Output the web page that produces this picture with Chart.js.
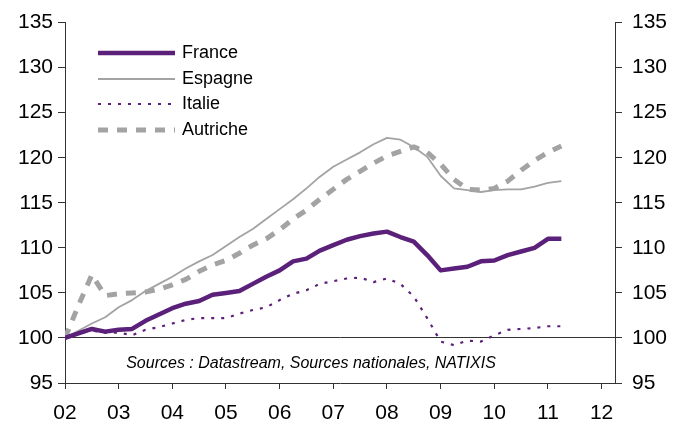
<!DOCTYPE html>
<html>
<head>
<meta charset="utf-8">
<script src="https://cdn.jsdelivr.net/npm/chart.js@4.4.1/dist/chart.umd.min.js"></script>
<style>
  html, body { margin: 0; padding: 0; background: #fff; }
  #wrap { width: 685px; height: 429px; position: relative; }
</style>
</head>
<body>
<div id="wrap"><canvas id="c" width="685" height="429"></canvas></div>
<script>
// Quarterly data, 2002 Q1 .. 2011 Q2 (index = quarter number from 2002 Q1)
const seriesNames = ['France', 'Espagne', 'Italie', 'Autriche'];
const france = [100, 100.5, 101.0, 100.7, 100.9, 101.0, 101.9, 102.6, 103.3, 103.8,
  104.1, 104.8, 105.0, 105.2, 106.0, 106.8, 107.5, 108.5, 108.8, 109.7,
  110.3, 110.9, 111.3, 111.6, 111.8, 111.2, 110.7, 109.2, 107.5, 107.7,
  107.9, 108.5, 108.6, 109.2, 109.6, 110.0, 111.0, 111.0];
const espagne = [100, 100.8, 101.6, 102.3, 103.4, 104.2, 105.2, 106.0, 106.8, 107.7,
  108.5, 109.2, 110.2, 111.2, 112.1, 113.2, 114.3, 115.4, 116.6, 117.9,
  119.0, 119.8, 120.6, 121.5, 122.2, 122.0, 121.2, 120.1, 118.0, 116.6,
  116.4, 116.2, 116.4, 116.5, 116.5, 116.8, 117.2, 117.4];
const italie = [100, 100.5, 100.8, 100.6, 100.6, 100.3, 100.9, 101.2, 101.6, 102.0,
  102.2, 102.2, 102.2, 102.7, 103.1, 103.4, 104.2, 104.9, 105.3, 106.0,
  106.3, 106.6, 106.7, 106.2, 106.6, 106.0, 104.6, 102.2, 99.6, 99.2,
  99.7, 99.6, 100.3, 100.9, 101.0, 101.1, 101.3, 101.3];
const autriche = [100, 103.6, 107.0, 104.7, 104.9, 105.0, 105.1, 105.4, 105.9, 106.5,
  107.4, 108.1, 108.6, 109.4, 110.3, 111.0, 112.0, 113.2, 114.2, 115.4,
  116.5, 117.6, 118.5, 119.4, 120.2, 120.7, 121.2, 120.6, 119.3, 117.6,
  116.5, 116.4, 116.6, 117.4, 118.6, 119.7, 120.6, 121.3];
const yearLabels = ['02', '03', '04', '05', '06', '07', '08', '09', '10', '11', '12'];
const sourceText = 'Sources : Datastream, Sources nationales, NATIXIS';

const PURPLE = '#5B2079';
const GRAY = '#A3A3A3';
const AXIS = '#333333';

const toPts = arr => arr.map((v, i) => ({ x: i, y: v }));

const datasets = [
  { label: seriesNames[0], data: toPts(france), borderColor: PURPLE, borderWidth: 4.5 },
  { label: seriesNames[1], data: toPts(espagne), borderColor: GRAY, borderWidth: 1.8 },
  { label: seriesNames[2], data: toPts(italie), borderColor: PURPLE, borderWidth: 2.2, borderDash: [3, 7] },
  { label: seriesNames[3], data: toPts(autriche), borderColor: GRAY, borderWidth: 5, borderDash: [10, 9] }
].map(d => Object.assign({ pointRadius: 0, tension: 0, fill: false, borderCapStyle: 'butt', borderJoinStyle: 'round' }, d));

const legendPlugin = {
  id: 'innerLegend',
  afterDraw(chart) {
    const ctx = chart.ctx;
    const ys = [53, 79, 104, 130];
    chart.data.datasets.forEach((ds, i) => {
      const y = ys[i];
      ctx.save();
      ctx.strokeStyle = ds.borderColor;
      ctx.lineWidth = ds.borderWidth;
      ctx.setLineDash(ds.borderDash || []);
      ctx.lineCap = 'butt';
      ctx.beginPath();
      ctx.moveTo(98, y);
      ctx.lineTo(175, y);
      ctx.stroke();
      ctx.setLineDash([]);
      ctx.fillStyle = '#000';
      ctx.font = '18px "Liberation Sans", Arial, sans-serif';
      ctx.textBaseline = 'middle';
      ctx.textAlign = 'left';
      ctx.fillText(ds.label, 182, y);
      ctx.restore();
    });
    // source note
    ctx.save();
    ctx.fillStyle = '#000';
    ctx.font = 'italic 16px "Liberation Sans", Arial, sans-serif';
    ctx.textAlign = 'center';
    ctx.textBaseline = 'middle';
    ctx.fillText(sourceText, 311, 364);
    ctx.restore();
  }
};

const tickFont = { family: '"Liberation Sans", Arial, sans-serif', size: 21 };

new Chart(document.getElementById('c'), {
  type: 'line',
  data: { datasets },
  options: {
    responsive: false,
    animation: false,
    events: [],
    layout: { padding: { top: 15, left: 0, right: 0, bottom: 0 } },
    plugins: { legend: { display: false }, tooltip: { enabled: false } },
    scales: {
      x: {
        type: 'linear', position: 'bottom', min: 0, max: 41,
        border: { display: true, color: AXIS, width: 1 },
        grid: { drawOnChartArea: false, drawTicks: true, tickLength: 6, color: AXIS, tickColor: AXIS },
        afterBuildTicks: s => { s.ticks = yearLabels.map((_, i) => ({ value: i * 4 })); },
        ticks: {
          color: '#000', font: tickFont, padding: 12, maxRotation: 0, autoSkip: false,
          callback: v => yearLabels[Math.round(v / 4)]
        },
        afterFit: s => { s.height = 46; }
      },
      y: {
        type: 'linear', position: 'left', min: 95, max: 135,
        border: { display: true, color: AXIS, width: 1 },
        grid: {
          drawOnChartArea: true, tickLength: 7, tickColor: AXIS,
          color: c => (c.tick && c.tick.value === 100) ? AXIS : 'rgba(0,0,0,0)'
        },
        ticks: { stepSize: 5, color: '#000', font: tickFont, padding: 5 },
        afterFit: s => { s.width = 65; }
      },
      y2: {
        type: 'linear', position: 'right', min: 95, max: 135,
        border: { display: true, color: AXIS, width: 1 },
        grid: { drawOnChartArea: false, tickLength: 7, color: AXIS, tickColor: AXIS },
        ticks: { stepSize: 5, color: '#000', font: tickFont, padding: 10 },
        afterFit: s => { s.width = 70; }
      }
    }
  },
  plugins: [legendPlugin]
});
</script>
</body>
</html>
